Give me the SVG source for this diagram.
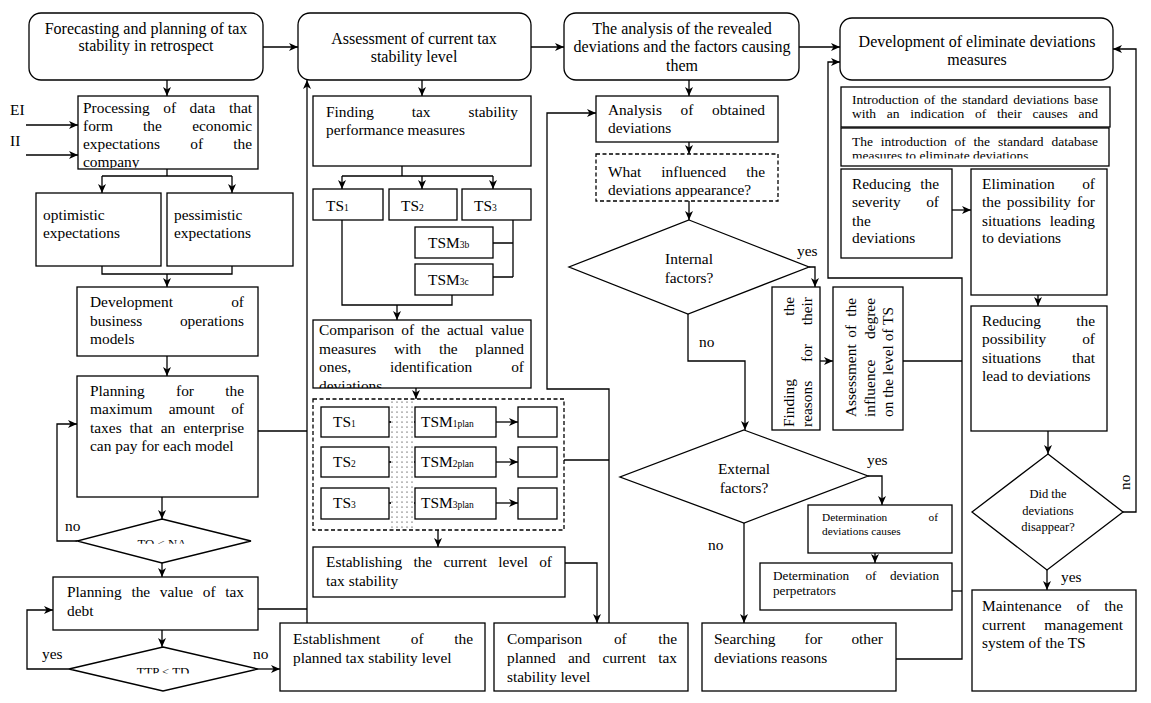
<svg xmlns="http://www.w3.org/2000/svg" width="1151" height="703" viewBox="0 0 1151 703">
<style>
rect,polygon{fill:#fff;stroke:#000;stroke-width:1.3}
.dash{stroke-dasharray:4 2.5;fill:none}
.t{font-family:"Liberation Serif","Times New Roman",serif;font-size:15.4px;fill:#000}
.h{font-family:"Liberation Serif","Times New Roman",serif;font-size:16px;fill:#000}
.s{font-family:"Liberation Serif","Times New Roman",serif;font-size:13.5px;fill:#000}
.sub{font-size:9.5px}
.e{text-anchor:end}
#connectors path,#connectors line{fill:none;stroke:#000;stroke-width:1.3}
.a{marker-end:url(#ah)}
.aa{marker-end:url(#ah);marker-start:url(#ahs)}
</style>
<defs>
<marker id="ah" markerUnits="userSpaceOnUse" markerWidth="10" markerHeight="8" refX="9" refY="4" orient="auto"><path d="M0,0 L9,4 L0,8 L2.5,4 z" fill="#000"/></marker>
<marker id="ahs" markerUnits="userSpaceOnUse" markerWidth="10" markerHeight="8" refX="9" refY="4" orient="auto-start-reverse"><path d="M0,0 L9,4 L0,8 L2.5,4 z" fill="#000"/></marker>
<pattern id="dots" width="5" height="5" patternUnits="userSpaceOnUse"><rect width="5" height="5" style="fill:#fff;stroke:none"/><circle cx="2" cy="2" r="0.6" fill="#000"/></pattern>
<clipPath id="cProc"><rect x="78" y="96" width="180" height="72"/></clipPath>
<clipPath id="cCmp"><rect x="313" y="320" width="218" height="68"/></clipPath>
<clipPath id="cWhat"><rect x="596" y="154" width="182" height="43"/></clipPath>
<clipPath id="cIn1"><rect x="841" y="87" width="270" height="39"/></clipPath>
<clipPath id="cIn2"><rect x="841" y="128" width="270" height="30.5"/></clipPath>
<clipPath id="cTo"><rect x="100" y="530" width="130" height="13.8"/></clipPath>
<clipPath id="cTt"><rect x="100" y="660" width="130" height="13.5"/></clipPath>
</defs>
<rect x="0" y="0" width="1151" height="703" style="fill:#fff;stroke:none"/>

<g id="connectors">
<line class="a" x1="263" y1="47" x2="298" y2="47"/>
<line class="a" x1="531" y1="47" x2="564" y2="47"/>
<line class="a" x1="799" y1="47" x2="840" y2="47"/>
<line class="a" x1="167" y1="80" x2="167" y2="96"/>
<line class="a" x1="26" y1="125" x2="78" y2="125"/>
<line class="a" x1="26" y1="155" x2="78" y2="155"/>
<path d="M167,169 V176 M102,176 H232"/>
<line class="a" x1="102" y1="176" x2="102" y2="193"/>
<line class="a" x1="232" y1="176" x2="232" y2="193"/>
<path d="M102,266 V274 H232 V266"/>
<line class="a" x1="167" y1="274" x2="167" y2="287"/>
<line class="a" x1="167" y1="356" x2="167" y2="376"/>
<line class="a" x1="162" y1="497" x2="162" y2="519"/>
<path class="a" d="M77,541 H57 V424 H77"/>
<line class="a" x1="162" y1="563" x2="162" y2="577"/>
<line class="a" x1="162" y1="630" x2="162" y2="647"/>
<path class="a" d="M69,669 H27 V610 H53"/>
<line class="a" x1="258" y1="669" x2="280" y2="669"/>
<path d="M258,431 H307 M258,609 H307"/>
<line class="a" x1="307" y1="623" x2="307" y2="80"/>
<line class="a" x1="422" y1="80" x2="422" y2="96"/>
<path d="M402,166 V176 M342,176 H493"/>
<line class="a" x1="342" y1="176" x2="342" y2="189"/>
<line class="a" x1="422" y1="176" x2="422" y2="189"/>
<line class="a" x1="493" y1="176" x2="493" y2="189"/>
<path d="M513,220 V277 M493,243 H513 M493,277 H513"/>
<path d="M342,220 V305 H452 V295"/>
<line class="a" x1="397" y1="305" x2="397" y2="320"/>
<line class="a" x1="416" y1="388" x2="416" y2="399"/>
<line class="aa" x1="389" y1="422" x2="415" y2="422"/>
<line class="aa" x1="389" y1="462" x2="415" y2="462"/>
<line class="aa" x1="389" y1="503" x2="415" y2="503"/>
<line class="a" x1="496" y1="422" x2="518" y2="422"/>
<line class="a" x1="496" y1="462" x2="518" y2="462"/>
<line class="a" x1="496" y1="503" x2="518" y2="503"/>
<line class="a" x1="438" y1="530" x2="438" y2="547"/>
<path class="a" d="M565,563 H597 V623"/>
<path d="M564,460 H609"/>
<path class="a" d="M609,623 V389 H547 V113 H596"/>
<line class="a" x1="689" y1="80" x2="689" y2="96"/>
<line class="a" x1="689" y1="142" x2="689" y2="154"/>
<line class="a" x1="689" y1="201" x2="689" y2="220"/>
<path class="a" d="M809,267 H815 V287"/>
<path class="a" d="M688,314 V361 H745 V430"/>
<line class="a" x1="820" y1="361" x2="833" y2="361"/>
<path d="M903,361 H962"/>
<path class="a" d="M868,476 H882 V505"/>
<line class="a" x1="875" y1="553" x2="875" y2="563"/>
<path d="M952,591 H962"/>
<line class="a" x1="744" y1="523" x2="744" y2="623"/>
<path class="a" d="M896,659 H962 V278 H828 V62 H840"/>
<line class="a" x1="952" y1="210" x2="971" y2="210"/>
<line class="a" x1="1038" y1="295" x2="1038" y2="306"/>
<line class="a" x1="1048" y1="431" x2="1048" y2="454"/>
<path class="a" d="M1123,512 H1136 V49 H1113"/>
<line class="a" x1="1047" y1="570" x2="1047" y2="590"/>
<text class="t" x="10" y="115">EI</text>
<text class="t" x="10" y="146">II</text>
<text class="t" x="65" y="531">no</text>
<text class="t" x="42" y="659">yes</text>
<text class="t" x="253" y="659">no</text>
<text class="t" x="797" y="256">yes</text>
<text class="t" x="699" y="347">no</text>
<text class="t" x="867" y="465">yes</text>
<text class="t" x="708" y="550">no</text>
<text class="t" x="1061" y="582">yes</text>
<text class="t" transform="translate(1130,490) rotate(-90)">no</text>
</g>

<g id="n-forecast"><rect x="29" y="13" width="234" height="67" rx="12"/>
<text class="h" text-anchor="middle" x="146" y="34">Forecasting and planning of tax</text>
<text class="h" text-anchor="middle" x="146" y="51">stability in retrospect</text></g>

<g id="n-assessment"><rect x="298" y="13" width="233" height="67" rx="12"/>
<text class="h" text-anchor="middle" x="414" y="43.5">Assessment of current tax</text>
<text class="h" text-anchor="middle" x="414" y="62">stability level</text></g>

<g id="n-analysis"><rect x="564" y="13" width="235" height="67" rx="12"/>
<text class="h" text-anchor="middle" x="682" y="34">The analysis of the revealed</text>
<text class="h" text-anchor="middle" x="682" y="52">deviations and the factors causing</text>
<text class="h" text-anchor="middle" x="682" y="70.5">them</text></g>

<g id="n-development"><rect x="840" y="18" width="273" height="62" rx="12"/>
<text class="h" text-anchor="middle" x="977" y="46.5">Development of eliminate deviations</text>
<text class="h" text-anchor="middle" x="977" y="65">measures</text></g>

<g id="n-processing"><rect x="78" y="96" width="180" height="73"/>
<g clip-path="url(#cProc)">
<text class="t" y="113"><tspan x="83">Processing</tspan><tspan x="163.2">of</tspan><tspan x="189.6">data</tspan><tspan class="e" x="252">that</tspan></text>
<text class="t" y="131"><tspan x="83">form</tspan><tspan x="143.1">the</tspan><tspan class="e" x="252">economic</tspan></text>
<text class="t" y="149"><tspan x="83">expectations</tspan><tspan x="190.2">of</tspan><tspan class="e" x="252">the</tspan></text>
<text class="t" x="83" y="167">company</text></g></g>

<g id="n-optimistic"><rect x="36" y="193" width="125" height="73"/>
<text class="t" x="43" y="220">optimistic</text>
<text class="t" x="43" y="238">expectations</text></g>

<g id="n-pessimistic"><rect x="167" y="193" width="126" height="73"/>
<text class="t" x="174" y="220">pessimistic</text>
<text class="t" x="174" y="238">expectations</text></g>

<g id="n-models"><rect x="77" y="287" width="181" height="69"/>
<text class="t" y="307"><tspan x="90">Development</tspan><tspan class="e" x="244">of</tspan></text>
<text class="t" y="326"><tspan x="90">business</tspan><tspan class="e" x="244">operations</tspan></text>
<text class="t" x="90" y="344">models</text></g>

<g id="n-planning-max"><rect x="77" y="376" width="181" height="121"/>
<text class="t" y="396"><tspan x="90">Planning</tspan><tspan x="176">for</tspan><tspan class="e" x="244">the</tspan></text>
<text class="t" y="414"><tspan x="90">maximum</tspan><tspan x="168.7">amount</tspan><tspan class="e" x="244">of</tspan></text>
<text class="t" y="433"><tspan x="90">taxes</tspan><tspan x="129.6">that</tspan><tspan x="160.7">an</tspan><tspan class="e" x="244">enterprise</tspan></text>
<text class="t" x="90" y="451">can pay for each model</text></g>

<g id="d-tona"><polygon points="162,519 251,541 162,563 77,541"/>
<text class="t" clip-path="url(#cTo)" style="font-size:12.8px" text-anchor="middle" x="162" y="547.5">TO &lt; NA</text></g>

<g id="n-planning-debt"><rect x="53" y="577" width="205" height="53"/>
<text class="t" y="597"><tspan x="67">Planning</tspan><tspan x="131.4">the</tspan><tspan x="159.8">value</tspan><tspan x="202.8">of</tspan><tspan class="e" x="244">tax</tspan></text>
<text class="t" x="67" y="616">debt</text></g>

<g id="d-ttptd"><polygon points="163,647 258,669 163,691 69,669"/>
<text class="t" clip-path="url(#cTt)" style="font-size:12.8px" text-anchor="middle" x="163" y="676">TTP &lt; TD</text></g>

<g id="n-establishment"><rect x="280" y="623" width="205" height="68"/>
<text class="t" y="644"><tspan x="293">Establishment</tspan><tspan x="410.8">of</tspan><tspan class="e" x="473">the</tspan></text>
<text class="t" x="293" y="663">planned tax stability level</text></g>

<g id="n-finding"><rect x="313" y="96" width="218" height="70"/>
<text class="t" y="117"><tspan x="326">Finding</tspan><tspan x="411.7">tax</tspan><tspan class="e" x="518">stability</tspan></text>
<text class="t" x="326" y="135">performance measures</text></g>

<g id="n-ts1"><rect x="313" y="189" width="70" height="31"/><text class="t" x="326" y="211">TS<tspan class="sub">1</tspan></text></g>
<g id="n-ts2"><rect x="389" y="189" width="68" height="31"/><text class="t" x="401" y="211">TS<tspan class="sub">2</tspan></text></g>
<g id="n-ts3"><rect x="462" y="189" width="69" height="31"/><text class="t" x="474" y="211">TS<tspan class="sub">3</tspan></text></g>
<g id="n-tsm3b"><rect x="415" y="227" width="78" height="31"/><text class="t" x="428" y="248">TSM<tspan class="sub">3b</tspan></text></g>
<g id="n-tsm3c"><rect x="415" y="264" width="78" height="31"/><text class="t" x="428" y="285">TSM<tspan class="sub">3c</tspan></text></g>

<g id="n-comparison-actual"><rect x="313" y="320" width="218" height="68"/>
<g clip-path="url(#cCmp)">
<text class="t" y="335"><tspan x="319">Comparison</tspan><tspan x="401.3">of</tspan><tspan x="421.1">the</tspan><tspan x="446.9">actual</tspan><tspan class="e" x="524">value</tspan></text>
<text class="t" y="354"><tspan x="319">measures</tspan><tspan x="393.9">with</tspan><tspan x="438.9">the</tspan><tspan class="e" x="524">planned</tspan></text>
<text class="t" y="372"><tspan x="319">ones,</tspan><tspan x="390.1">identification</tspan><tspan class="e" x="524">of</tspan></text>
<text class="t" x="319" y="391">deviations</text></g></g>

<g id="n-compare-table">
<rect class="dash" x="313" y="399" width="251" height="131"/>
<rect x="391" y="400" width="23" height="129" style="fill:url(#dots);stroke:none"/>
<g id="n-row1"><rect x="321" y="407" width="68" height="30"/><text class="t" x="333" y="427">TS<tspan class="sub">1</tspan></text>
<rect x="415" y="407" width="81" height="30"/><text class="t" x="421" y="427">TSM<tspan class="sub">1plan</tspan></text>
<rect x="518" y="407" width="39" height="30"/></g>
<g id="n-row2"><rect x="321" y="447" width="68" height="30"/><text class="t" x="333" y="467">TS<tspan class="sub">2</tspan></text>
<rect x="415" y="447" width="81" height="30"/><text class="t" x="421" y="467">TSM<tspan class="sub">2plan</tspan></text>
<rect x="518" y="447" width="39" height="30"/></g>
<g id="n-row3"><rect x="321" y="488" width="68" height="31"/><text class="t" x="333" y="508">TS<tspan class="sub">3</tspan></text>
<rect x="415" y="488" width="81" height="31"/><text class="t" x="421" y="508">TSM<tspan class="sub">3plan</tspan></text>
<rect x="518" y="488" width="39" height="31"/></g>
</g>

<g id="n-establishing"><rect x="313" y="547" width="252" height="50"/>
<text class="t" y="567"><tspan x="326">Establishing</tspan><tspan x="413.4">the</tspan><tspan x="443.4">current</tspan><tspan x="498.2">level</tspan><tspan class="e" x="552">of</tspan></text>
<text class="t" x="326" y="586">tax stability</text></g>

<g id="n-comparison-planned"><rect x="494" y="623" width="194" height="68"/>
<text class="t" y="644"><tspan x="507">Comparison</tspan><tspan x="613.9">of</tspan><tspan class="e" x="677">the</tspan></text>
<text class="t" y="663"><tspan x="507">planned</tspan><tspan x="568">and</tspan><tspan x="602.4">current</tspan><tspan class="e" x="677">tax</tspan></text>
<text class="t" x="507" y="682">stability level</text></g>

<g id="n-analysis-obtained"><rect x="596" y="96" width="182" height="46"/>
<text class="t" y="115"><tspan x="608">Analysis</tspan><tspan x="680.6">of</tspan><tspan class="e" x="765">obtained</tspan></text>
<text class="t" x="608" y="133">deviations</text></g>

<g id="n-what"><rect class="dash" x="596" y="154" width="182" height="47"/>
<g clip-path="url(#cWhat)">
<text class="t" y="177"><tspan x="608">What</tspan><tspan x="661.3">influenced</tspan><tspan class="e" x="765">the</tspan></text>
<text class="t" x="608" y="195">deviations appearance?</text></g></g>

<g id="d-internal"><polygon points="689,220 809,267 688,314 569,267"/>
<text class="t" text-anchor="middle" x="689" y="264">Internal</text>
<text class="t" text-anchor="middle" x="689" y="283">factors?</text></g>

<g id="n-finding-reasons"><rect x="772" y="287" width="48" height="143"/>
<text class="t" transform="translate(794,427) rotate(-90)"><tspan x="0">Finding</tspan><tspan class="e" x="130">the</tspan></text>
<text class="t" transform="translate(812,427) rotate(-90)"><tspan x="0">reasons</tspan><tspan x="65">for</tspan><tspan class="e" x="130">their</tspan></text></g>

<g id="n-assessment-influence"><rect x="833" y="287" width="70" height="143"/>
<text class="t" transform="translate(856,417) rotate(-90)"><tspan x="0">Assessment</tspan><tspan x="79.3">of</tspan><tspan class="e" x="119">the</tspan></text>
<text class="t" transform="translate(875,417) rotate(-90)"><tspan x="0">influence</tspan><tspan class="e" x="119">degree</tspan></text>
<text class="t" transform="translate(893,417) rotate(-90)">on the level of TS</text></g>

<g id="d-external"><polygon points="744,430 868,476 744,523 620,477"/>
<text class="t" text-anchor="middle" x="744" y="474">External</text>
<text class="t" text-anchor="middle" x="744" y="493">factors?</text></g>

<g id="n-det-causes"><rect x="808" y="505" width="144" height="48"/>
<text class="t" style="font-size:11.3px" y="521"><tspan x="822">Determination</tspan><tspan class="e" x="938">of</tspan></text>
<text class="t" style="font-size:11.3px" x="822" y="535">deviations causes</text></g>

<g id="n-det-perp"><rect x="760" y="563" width="192" height="47"/>
<text class="t" style="font-size:13.2px" y="580"><tspan x="773">Determination</tspan><tspan x="865.4">of</tspan><tspan class="e" x="939">deviation</tspan></text>
<text class="t" style="font-size:13.2px" x="773" y="595">perpetrators</text></g>

<g id="n-searching"><rect x="702" y="623" width="194" height="68"/>
<text class="t" y="644"><tspan x="714">Searching</tspan><tspan x="804.5">for</tspan><tspan class="e" x="883">other</tspan></text>
<text class="t" x="714" y="663">deviations reasons</text></g>

<g id="n-intro-base"><rect x="841" y="87" width="269" height="40"/>
<g clip-path="url(#cIn1)">
<text class="s" y="104"><tspan x="852">Introduction</tspan><tspan x="924">of</tspan><tspan x="940.5">the</tspan><tspan x="962.3">standard</tspan><tspan x="1013.3">deviations</tspan><tspan class="e" x="1098">base</tspan></text>
<text class="s" y="118"><tspan x="852">with</tspan><tspan x="886.8">an</tspan><tspan x="910.3">indication</tspan><tspan x="975.1">of</tspan><tspan x="997.1">their</tspan><tspan x="1032.6">causes</tspan><tspan class="e" x="1098">and</tspan></text></g></g>

<g id="n-intro-db"><rect x="841" y="128" width="268" height="38"/>
<g clip-path="url(#cIn2)">
<text class="s" y="146"><tspan x="852">The</tspan><tspan x="880.8">introduction</tspan><tspan x="954.6">of</tspan><tspan x="973.6">the</tspan><tspan x="997.9">standard</tspan><tspan class="e" x="1098">database</tspan></text>
<text class="s" x="852" y="160">measures to eliminate deviations</text></g></g>

<g id="n-reducing-severity"><rect x="841" y="169" width="111" height="89"/>
<text class="t" y="189"><tspan x="852">Reducing</tspan><tspan class="e" x="939">the</tspan></text>
<text class="t" y="207"><tspan x="852">severity</tspan><tspan class="e" x="939">of</tspan></text>
<text class="t" x="852" y="226">the</text>
<text class="t" x="852" y="243">deviations</text></g>

<g id="n-elimination"><rect x="971" y="169" width="136" height="126"/>
<text class="t" y="189"><tspan x="982">Elimination</tspan><tspan class="e" x="1095">of</tspan></text>
<text class="t" y="207"><tspan x="982">the</tspan><tspan x="1006.8">possibility</tspan><tspan class="e" x="1095">for</tspan></text>
<text class="t" y="226"><tspan x="982">situations</tspan><tspan class="e" x="1095">leading</tspan></text>
<text class="t" x="982" y="243">to deviations</text></g>

<g id="n-reducing-possibility"><rect x="971" y="306" width="136" height="125"/>
<text class="t" y="326"><tspan x="982">Reducing</tspan><tspan class="e" x="1095">the</tspan></text>
<text class="t" y="344"><tspan x="982">possibility</tspan><tspan class="e" x="1095">of</tspan></text>
<text class="t" y="363"><tspan x="982">situations</tspan><tspan class="e" x="1095">that</tspan></text>
<text class="t" x="982" y="381">lead to deviations</text></g>

<g id="d-disappear"><polygon points="1048,454 1123,512 1047,570 972,512"/>
<text class="t" style="font-size:12.5px" text-anchor="middle" x="1048" y="498">Did the</text>
<text class="t" style="font-size:12.5px" text-anchor="middle" x="1048" y="515">deviations</text>
<text class="t" style="font-size:12.5px" text-anchor="middle" x="1048" y="531">disappear?</text></g>

<g id="n-maintenance"><rect x="972" y="590" width="164" height="101"/>
<text class="t" y="611"><tspan x="982">Maintenance</tspan><tspan x="1076.5">of</tspan><tspan class="e" x="1123">the</tspan></text>
<text class="t" y="630"><tspan x="982">current</tspan><tspan class="e" x="1123">management</tspan></text>
<text class="t" x="982" y="648">system of the TS</text></g>
</svg>
